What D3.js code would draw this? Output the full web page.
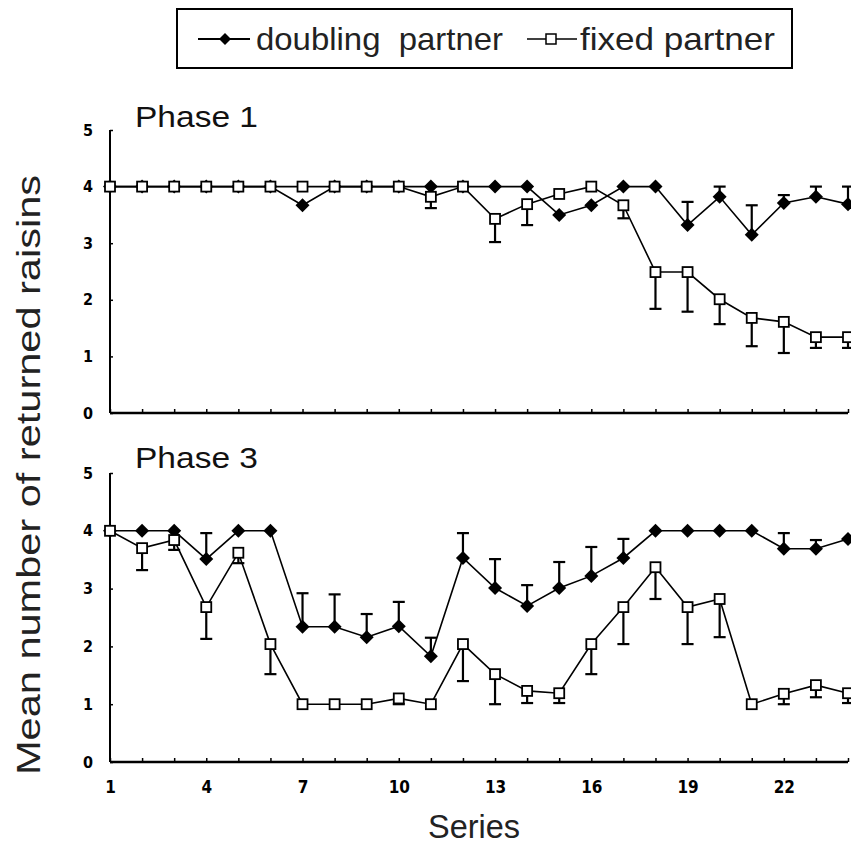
<!DOCTYPE html>
<html><head><meta charset="utf-8">
<script src="https://cdn.jsdelivr.net/npm/d3@7"></script>
<style>body{margin:0;background:#fff}svg{display:block}</style>
</head><body>
<svg id="c" width="851" height="845"></svg>
<script>
const series = d3.range(1, 25);
const xTickLabels = [1, 4, 7, 10, 13, 16, 19, 22];
const yTickLabels = [0, 1, 2, 3, 4, 5];
const seriesNames = ["doubling  partner", "fixed partner"];
const panelTitles = ["Phase 1", "Phase 3"];

const phase1Doubling = [4,4,4,4,4,4,3.67,4,4,4,4,4,4,4,3.5,3.67,4,4,3.32,3.82,3.15,3.71,3.82,3.69];
const phase1DoublingErr = [0,0,0,0,0,0,0,0,0,0,0,0,0,0,0,0,0,0,0.41,0.18,0.52,0.14,0.18,0.31];
const phase1Fixed = [4,4,4,4,4,4,4,4,4,4,3.82,4,3.43,3.69,3.87,4,3.67,2.49,2.49,2.01,1.68,1.61,1.34,1.34];
const phase1FixedErr = [0,0,0,0,0,0,0,0,0,0,0.2,0,0.41,0.37,0,0,0.23,0.65,0.7,0.44,0.5,0.55,0.19,0.19];

const phase3Doubling = [4,4,4,3.51,4,4,2.34,2.34,2.16,2.35,1.83,3.53,3.01,2.7,3.01,3.22,3.53,4,4,4,4,3.69,3.69,3.86];
const phase3DoublingErr = [0,0,0,0.45,0,0,0.58,0.56,0.4,0.42,0.32,0.43,0.5,0.36,0.45,0.5,0.33,0,0,0,0,0.27,0.15,0];
const phase3Fixed = [4,3.7,3.84,2.68,3.62,2.04,1,1,1,1.1,1,2.04,1.52,1.23,1.19,2.04,2.68,3.37,2.68,2.82,1,1.18,1.33,1.19];
const phase3FixedErr = [0,0.38,0.17,0.55,0.18,0.52,0,0,0,0.1,0,0.64,0.52,0.21,0.17,0.52,0.64,0.55,0.64,0.66,0,0.18,0.21,0.17];

const svg = d3.select("#c");
const x = d3.scaleLinear().domain([1, 24]).range([110, 848]);
const tickFont = "'DejaVu Sans Condensed','DejaVu Sans',sans-serif";
const textFont = "'Liberation Sans',Arial,sans-serif";

const panels = [
  {title: panelTitles[0], range: [413, 130], dbl: phase1Doubling, dblErr: phase1DoublingErr, fix: phase1Fixed, fixErr: phase1FixedErr, titleY: 127},
  {title: panelTitles[1], range: [762, 473], dbl: phase3Doubling, dblErr: phase3DoublingErr, fix: phase3Fixed, fixErr: phase3FixedErr, titleY: 468}
];

const diamondPath = (w, h) => `M0,${-h}L${w},0L0,${h}L${-w},0Z`;

panels.forEach((p, pi) => {
  const y = d3.scaleLinear().domain([0, 5]).range(p.range);
  const g = svg.append("g");

  const yAxis = d3.axisLeft(y).tickValues(yTickLabels).tickSize(-3).tickPadding(17).tickFormat(d3.format("d"));
  const ya = g.append("g").attr("transform", `translate(${x(1)},0)`).call(yAxis);
  ya.select(".domain").attr("stroke-width", 2).attr("d", `M0,${y(5)}V${y(0)}`);
  ya.selectAll("line").attr("stroke-width", 1.5);
  ya.selectAll("text").attr("font-family", tickFont).attr("font-weight", "bold").attr("font-size", 16);

  const xAxis = d3.axisBottom(x).tickValues(series).tickSize(-4).tickFormat(d => (pi === 1 && xTickLabels.includes(d)) ? d : "").tickPadding(19);
  const xa = g.append("g").attr("transform", `translate(0,${y(0)})`).call(xAxis);
  xa.select(".domain").attr("stroke-width", 2.5).attr("d", `M${x(1)},0H${x(24)}`);
  xa.selectAll("line").attr("stroke-width", 1.5);
  xa.selectAll("text").attr("font-family", tickFont).attr("font-weight", "bold").attr("font-size", 17);

  g.append("text").attr("x", 135).attr("y", p.titleY).text(p.title)
    .attr("font-family", textFont).attr("font-size", 30).attr("fill", "#111")
    .attr("textLength", 123).attr("lengthAdjust", "spacingAndGlyphs");

  const line = d3.line().x((d, i) => x(series[i])).y(d => y(d));
  g.append("path").attr("d", line(p.dbl)).attr("fill", "none").attr("stroke", "#000").attr("stroke-width", 1.6);
  g.append("path").attr("d", line(p.fix)).attr("fill", "none").attr("stroke", "#000").attr("stroke-width", 1.6);

  const eb = (vals, errs, dir) => {
    vals.forEach((v, i) => {
      const e = errs[i];
      if (!e) return;
      const xx = x(series[i]);
      const y0 = y(v), y1 = y(v + dir * e);
      g.append("line").attr("x1", xx).attr("x2", xx).attr("y1", y0).attr("y2", y1).attr("stroke", "#000").attr("stroke-width", 2.2);
      g.append("line").attr("x1", xx - 6).attr("x2", xx + 6).attr("y1", y1).attr("y2", y1).attr("stroke", "#000").attr("stroke-width", 2.2);
    });
  };
  eb(p.dbl, p.dblErr, 1);
  eb(p.fix, p.fixErr, -1);

  g.selectAll(".dm").data(p.dbl).enter().append("path")
    .attr("d", diamondPath(7, 7)).attr("transform", (d, i) => `translate(${x(series[i])},${y(d)})`).attr("fill", "#000");
  g.selectAll(".sq").data(p.fix).enter().append("rect")
    .attr("x", (d, i) => x(series[i]) - 5).attr("y", d => y(d) - 5).attr("width", 10).attr("height", 10)
    .attr("fill", "#fff").attr("stroke", "#000").attr("stroke-width", 1.8);
});

svg.append("text").attr("transform", "translate(40,475) rotate(-90)").attr("text-anchor", "middle")
  .attr("font-family", textFont).attr("font-size", 34).attr("fill", "#222")
  .attr("textLength", 600).attr("lengthAdjust", "spacingAndGlyphs").text("Mean number of returned raisins");
svg.append("text").attr("x", 474).attr("y", 838).attr("text-anchor", "middle")
  .attr("font-family", textFont).attr("font-size", 33).attr("fill", "#222")
  .attr("textLength", 92).attr("lengthAdjust", "spacingAndGlyphs").text("Series");

const lg = svg.append("g");
lg.append("rect").attr("x", 177).attr("y", 9).attr("width", 615).attr("height", 59).attr("fill", "#fff").attr("stroke", "#000").attr("stroke-width", 2);
lg.append("line").attr("x1", 198).attr("x2", 250).attr("y1", 39).attr("y2", 39).attr("stroke", "#000").attr("stroke-width", 1.8);
lg.append("path").attr("d", diamondPath(6, 6)).attr("transform", "translate(225,39)").attr("fill", "#000");
lg.append("text").attr("x", 256).attr("y", 50).text(seriesNames[0]).attr("font-family", textFont).attr("font-size", 32).attr("fill", "#222")
  .attr("xml:space", "preserve").style("white-space", "pre").attr("textLength", 247).attr("lengthAdjust", "spacingAndGlyphs");
lg.append("line").attr("x1", 527).attr("x2", 577).attr("y1", 39).attr("y2", 39).attr("stroke", "#000").attr("stroke-width", 1.6);
lg.append("rect").attr("x", 546).attr("y", 34).attr("width", 10).attr("height", 10).attr("fill", "#fff").attr("stroke", "#000").attr("stroke-width", 1.5);
lg.append("text").attr("x", 580).attr("y", 50).text(seriesNames[1]).attr("font-family", textFont).attr("font-size", 32).attr("fill", "#222")
  .attr("textLength", 195).attr("lengthAdjust", "spacingAndGlyphs");
</script>
</body></html>
